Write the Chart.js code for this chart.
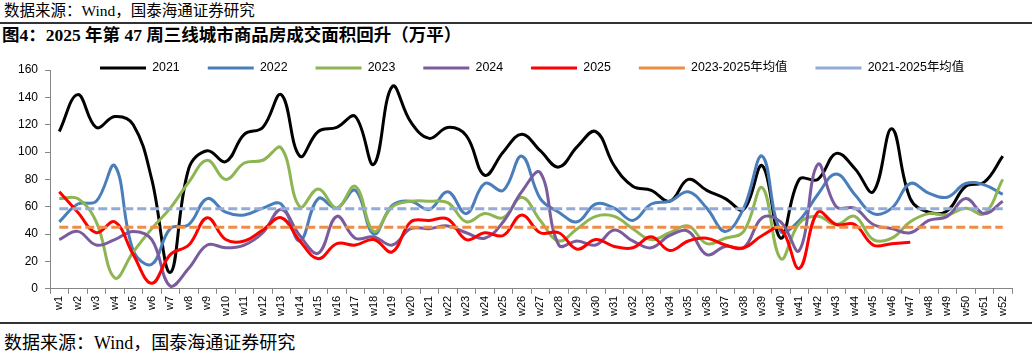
<!DOCTYPE html>
<html><head><meta charset="utf-8">
<script src="https://cdn.jsdelivr.net/npm/chart.js@4.4.1/dist/chart.umd.min.js"></script>
<style>
html,body{margin:0;padding:0;background:#fff;}
#wrap{position:relative;width:1032px;height:357px;overflow:hidden;background:#fff;}
.src{position:absolute;left:4px;font-family:"Liberation Serif","Noto Sans CJK SC",serif;color:#000;white-space:nowrap;}
#src1{top:2px;font-size:15.5px;line-height:18px;}
#rule1{position:absolute;left:0;top:22px;width:1032px;height:2px;background:#333;}
#title{position:absolute;left:2px;top:25px;font-family:"Liberation Serif","Noto Sans CJK SC",serif;font-weight:bold;font-size:17.5px;line-height:21px;white-space:nowrap;color:#000;}
#rule2{position:absolute;left:0;top:322px;width:1032px;height:2px;background:#333;}
#src2{top:333px;font-size:18px;line-height:20px;}
#chart{position:absolute;left:0;top:48px;}
</style></head>
<body><div id="wrap">
<div id="src1" class="src">数据来源：Wind，国泰海通证券研究</div>
<div id="rule1"></div>
<div id="title">图4：2025 年第 47 周三线城市商品房成交面积回升（万平）</div>
<canvas id="chart" width="1032" height="272"></canvas>
<div id="rule2"></div>
<div id="src2" class="src">数据来源：Wind，国泰海通证券研究</div>
</div>
<script>
const weeks = ['w1','w2','w3','w4','w5','w6','w7','w8','w9','w10','w11','w12','w13','w14','w15','w16','w17','w18','w19','w20','w21','w22','w23','w24','w25','w26','w27','w28','w29','w30','w31','w32','w33','w34','w35','w36','w37','w38','w39','w40','w41','w42','w43','w44','w45','w46','w47','w48','w49','w50','w51','w52'];
const s2021 = [115,142,118,126,120,80,12,88,101,93,113,118,142,97,115,118,126,91,148,122,110,118,112,83,100,113,101,89,104,115,90,75,72,64,80,72,66,58,90,37,80,80,99,88,71,117,66,56,57,75,78,97];
const s2022 = [49,62,64,90,28,18,44,47,66,56,54,59,62,35,66,59,72,40,61,64,58,71,55,77,72,97,66,56,49,62,59,50,62,64,71,59,42,59,97,42,50,69,84,69,55,59,77,70,67,77,76,69];
const s2023 = [66,66,49,8,27,44,59,78,94,80,92,94,103,60,73,59,75,42,60,64,64,63,49,55,52,67,50,35,44,53,53,44,36,41,46,33,37,42,74,22,48,53,47,53,36,37,49,55,54,59,55,80];
const s2024 = [36,42,32,36,42,36,2,15,32,30,32,41,58,39,26,53,37,38,32,44,44,46,41,37,49,71,85,32,35,32,43,35,30,39,42,25,31,30,52,49,28,91,60,59,47,44,41,50,53,66,55,64];
const s2025 = [71,56,41,49,25,4,25,32,52,36,35,43,52,35,22,33,32,36,27,49,50,51,36,41,39,54,41,41,29,36,31,30,38,28,35,37,32,30,39,44,15,56,47,47,32,33,34];
const avg2325 = [45,45,45,45,45,45,45,45,45,45,45,45,45,45,45,45,45,45,45,45,45,45,45,45,45,45,45,45,45,45,45,45,45,45,45,45,45,45,45,45,45,45,45,45,45,45,45,45,45,45,45,45];
const avg2125 = [58.5,58.5,58.5,58.5,58.5,58.5,58.5,58.5,58.5,58.5,58.5,58.5,58.5,58.5,58.5,58.5,58.5,58.5,58.5,58.5,58.5,58.5,58.5,58.5,58.5,58.5,58.5,58.5,58.5,58.5,58.5,58.5,58.5,58.5,58.5,58.5,58.5,58.5,58.5,58.5,58.5,58.5,58.5,58.5,58.5,58.5,58.5,58.5,58.5,58.5,58.5,58.5];
const seriesNames = ['2021','2022','2023','2024','2025','2023-2025年均值','2021-2025年均值'];
const yMin = 0, yMax = 160, yStep = 20;

const FONT = '"Liberation Sans", Arial, "Noto Sans CJK SC", sans-serif';

function solid(label, data, color, order){
  return {label, data, borderColor: color, backgroundColor: color, borderWidth: 3, pointRadius: 0, pointHoverRadius: 0, tension: 0.4, fill: false, order};
}
function dashed(label, data, color, order){
  return {label, data, borderColor: color, backgroundColor: color, borderWidth: 3, borderDash: [9,4], pointRadius: 0, pointHoverRadius: 0, tension: 0, fill: false, order};
}

const legendPlacer = {
  id: 'legendPlacer',
  beforeInit(chart){
    const fit = chart.legend.fit;
    chart.legend.fit = function(){ fit.call(this); this.height = 0; };
  },
  afterLayout(chart){
    const lg = chart.legend;
    const p = lg.options.labels.padding;
    const fs = lg.options.labels.font.size;
    const w = lg.right - lg.left;
    lg.left = 100 - p; lg.right = lg.left + w;
    lg.top = 20 - fs / 2 - p; lg.bottom = lg.top + 2 * p + fs;
    lg.height = lg.bottom - lg.top;
  }
};

new Chart(document.getElementById('chart'), {
  type: 'line',
  data: {
    labels: weeks,
    datasets: [
      solid(seriesNames[0], s2021, '#000000', 6),
      solid(seriesNames[1], s2022, '#4A7EBB', 5),
      solid(seriesNames[2], s2023, '#8DB552', 4),
      solid(seriesNames[3], s2024, '#7A5C9E', 3),
      solid(seriesNames[4], s2025, '#FF0000', 2),
      dashed(seriesNames[5], avg2325, '#EE8D45', 1),
      dashed(seriesNames[6], avg2125, '#93ABD6', 0)
    ]
  },
  options: {
    responsive: false,
    animation: false,
    devicePixelRatio: 1,
    layout: { padding: { left: 11, right: 20, top: 22, bottom: 2 } },
    plugins: {
      legend: {
        position: 'top', align: 'start',
        labels: {
          usePointStyle: true, pointStyle: 'line', pointStyleWidth: 46,
          padding: 28, color: '#000',
          font: { family: FONT, size: 12.4 },
          sort: (a, b) => a.datasetIndex - b.datasetIndex
        }
      },
      tooltip: { enabled: false },
      title: { display: false }
    },
    scales: {
      x: {
        type: 'category', offset: true,
        grid: { drawOnChartArea: false, drawTicks: true, tickLength: 5, color: '#868686', offset: true },
        border: { display: true, color: '#868686', width: 1 },
        ticks: { autoSkip: false, minRotation: 90, maxRotation: 90, padding: 2, color: '#000', font: { family: FONT, size: 11 } }
      },
      y: {
        min: yMin, max: yMax,
        grid: { drawOnChartArea: false, drawTicks: true, tickLength: 5, color: '#868686' },
        border: { display: true, color: '#868686', width: 1 },
        ticks: { stepSize: yStep, padding: 7, color: '#000', font: { family: FONT, size: 12 } }
      }
    }
  },
  plugins: [legendPlacer]
});
</script>
</body></html>
